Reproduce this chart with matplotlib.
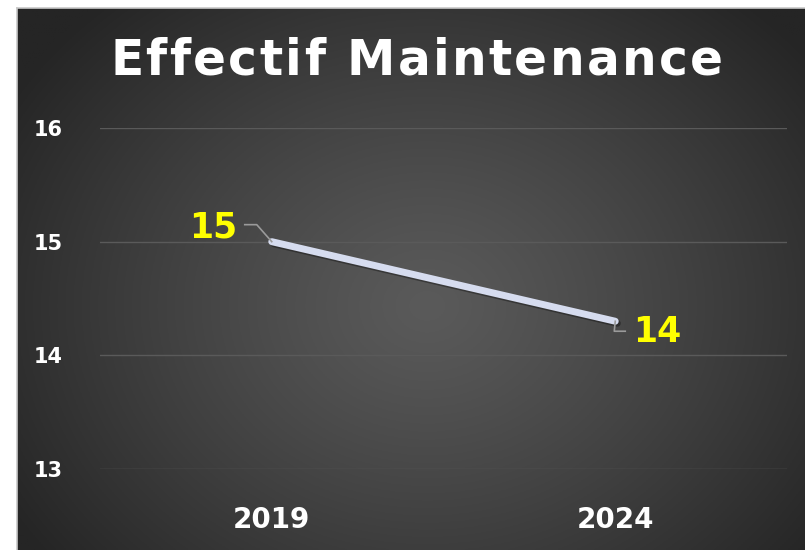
import numpy as np
import matplotlib
matplotlib.use("Agg")
import matplotlib.pyplot as plt
from matplotlib.lines import Line2D
import matplotlib.patheffects as pe
from matplotlib.font_manager import findfont, FontProperties
from matplotlib.ft2font import FT2Font

# ---- data ----
categories = ["2019", "2024"]
values = [15.0, 14.3]
value_labels = ["15", "14"]
yticks = [13, 14, 15, 16]
title = "Effectif Maintenance"

W, H, DPI = 805, 550, 100
fig = plt.figure(figsize=(W / DPI, H / DPI), dpi=DPI)
fig.patch.set_facecolor("white")

# background panel with radial gradient
bx0, by_top = 17, 8
bg = fig.add_axes([bx0 / W, 0, 1 - bx0 / W, 1 - by_top / H])
bg.set_axis_off()
nx, ny = 400, 280
xx, yy = np.meshgrid(np.linspace(0, 1, nx), np.linspace(0, 1, ny))
r = np.sqrt(((xx - 0.52) / 0.62) ** 2 + ((yy - 0.55) / 0.75) ** 2)
r = np.clip(r, 0, 1)
c = (0x5a + (0x25 - 0x5a) * r ** 1.2) / 255.0
img = np.dstack([c, c, c])
bg.imshow(img, aspect="auto", extent=[0, 1, 0, 1], origin="upper")
bg.set_xlim(0, 1)
bg.set_ylim(0, 1)
fig.add_artist(Line2D([bx0 / W, 1], [1 - by_top / H] * 2, color="#c8c8c8", lw=1.2, transform=fig.transFigure))
fig.add_artist(Line2D([bx0 / W] * 2, [0, 1 - by_top / H], color="#c8c8c8", lw=1.2, transform=fig.transFigure))

# main axes
left, right = 100, 787
y13, y16 = 469, 128
ax = fig.add_axes([left / W, 1 - y13 / H, (right - left) / W, (y13 - y16) / H])
ax.patch.set_alpha(0)
ax.set_xlim(-0.5, 1.5)
ax.set_ylim(13, 16)
for s in ax.spines.values():
    s.set_visible(False)
ax.set_yticks(yticks)
ax.set_yticklabels([str(t) for t in yticks])
ax.grid(axis="y", color="#5a5a5a", lw=1.0)
ax.set_axisbelow(True)
ax.tick_params(axis="both", length=0)
ax.tick_params(axis="y", pad=27, labelsize=15, labelcolor="white")
ax.tick_params(axis="x", pad=27, labelsize=20, labelcolor="white")
x = np.arange(len(categories))
ax.set_xticks(x)
ax.set_xticklabels(categories)
for lab in ax.get_yticklabels() + ax.get_xticklabels():
    lab.set_fontweight("bold")
    lab.set_family("DejaVu Sans")

ax.plot(x, values, color="#d6dcef", lw=5, solid_capstyle="round", zorder=3,
        path_effects=[pe.SimpleLineShadow(offset=(1.5, -1.5), shadow_color="black", alpha=0.35),
                      pe.Normal()])

# data labels with leader lines (pixel offsets from data points)
fig.canvas.draw()
trans = ax.transData
offsets_text = [(-59, 14), (42, -11)]
leaders = [[(0, 0), (-15, 17), (-27, 17)], [(0, 0), (-1, -10), (10, -10)]]
for xi, v, lab, off, ld in zip(x, values, value_labels, offsets_text, leaders):
    px, py = trans.transform((xi, v))
    xs = [(px + dx) / W for dx, dy in ld]
    ys = [(py + dy) / H for dx, dy in ld]
    fig.add_artist(Line2D(xs, ys, color="#9a9a9a", lw=1.2, transform=fig.transFigure, zorder=5))
    fig.text((px + off[0]) / W, (py + off[1]) / H, lab, color="#ffff00", fontsize=25,
             fontweight="bold", family="DejaVu Sans", ha="center", va="center", zorder=6)

# title with slight letter spacing
tsize = 35
prop = FontProperties(family="DejaVu Sans", weight="bold", size=tsize)
font = FT2Font(findfont(prop))
font.set_size(tsize, DPI)
adv = [font.load_char(ord(ch)).linearHoriAdvance / 65536.0 for ch in title]
target_w = 613
spacing = (target_w - sum(adv)) / (len(title) - 1)
x0 = 416.5 - target_w / 2
cx = x0
for ch, a in zip(title, adv):
    fig.text(cx / W, 1 - 75 / H, ch, color="white", fontproperties=prop,
             ha="left", va="baseline")
    cx += a + spacing

fig.savefig("out.png", dpi=DPI, facecolor=fig.get_facecolor())
